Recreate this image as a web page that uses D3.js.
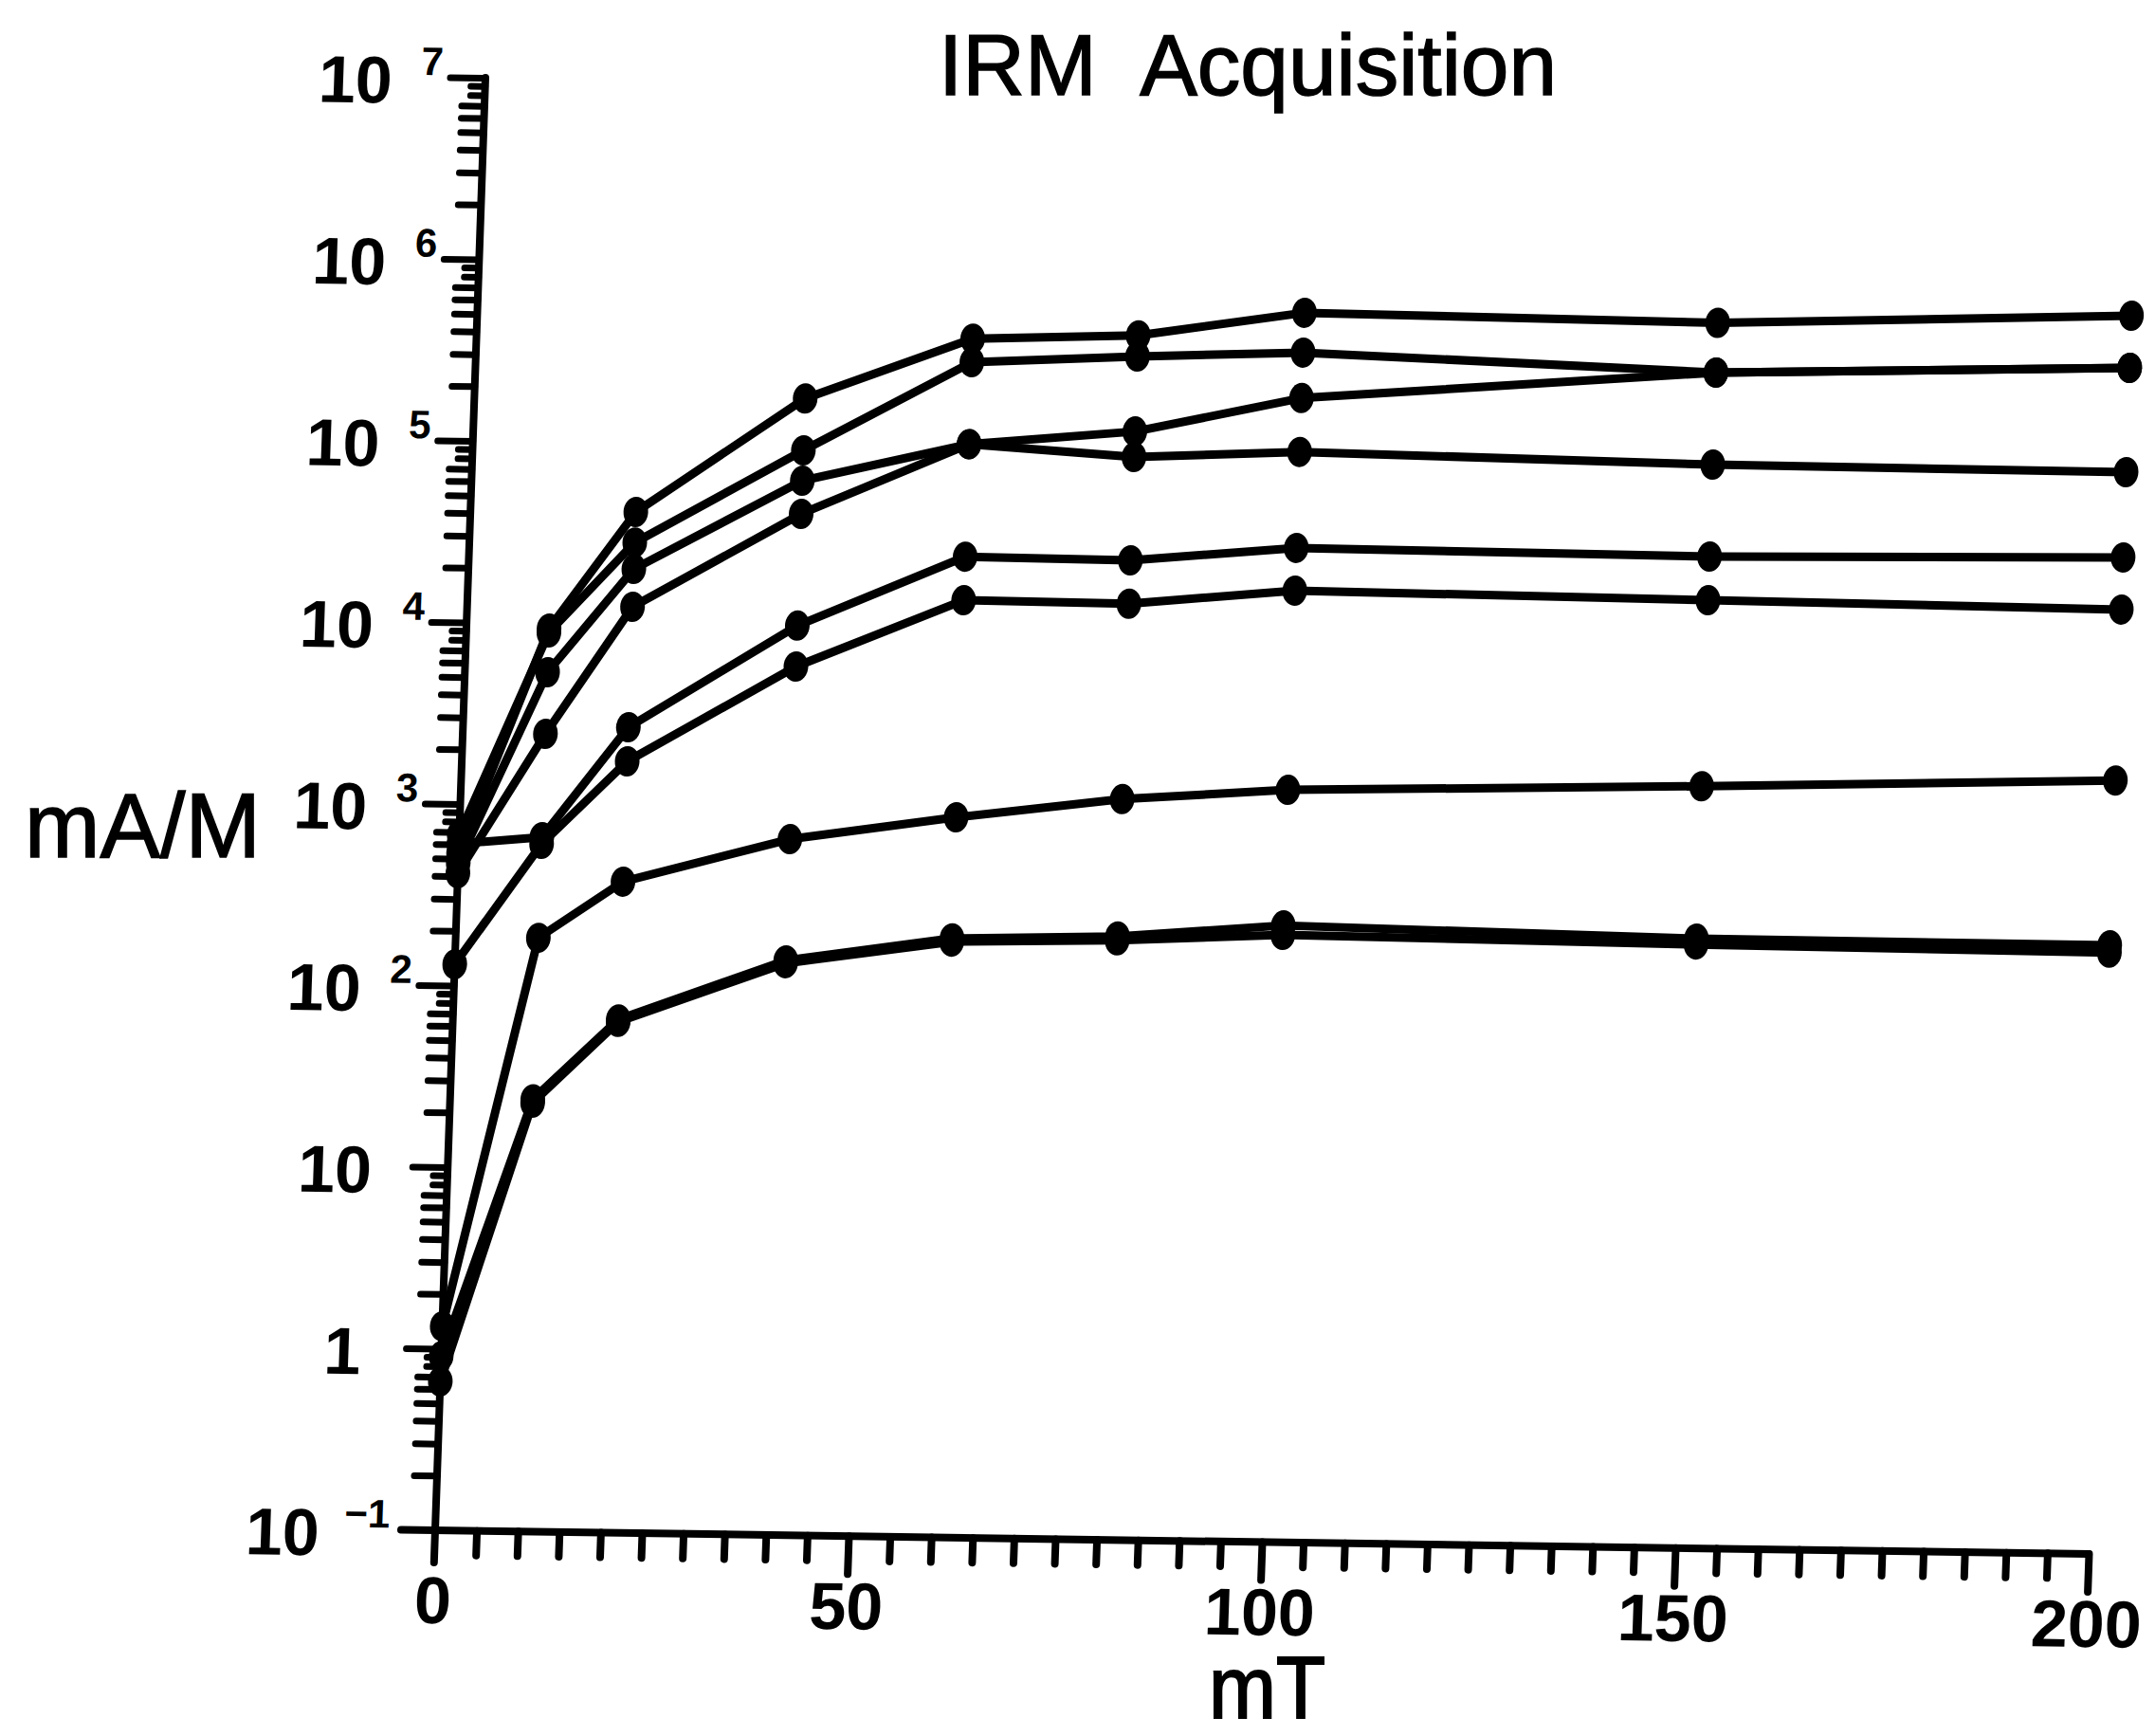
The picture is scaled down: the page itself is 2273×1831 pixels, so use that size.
<!DOCTYPE html>
<html>
<head>
<meta charset="utf-8">
<script src="https://cdn.jsdelivr.net/npm/d3@7"></script>
<style>
  html, body { margin: 0; padding: 0; background: #ffffff; }
  svg { display: block; }
  text { white-space: pre; }
</style>
</head>
<body>
<svg id="chart" width="2273" height="1831"></svg>
<script>
// ---------------- data ----------------
const fields = [0, 10, 20, 40, 60, 80, 100, 150, 200];   // mT

const sampleA = [535, 9400, 41800, 182000, 400000, 430000, 590000, 560000, 660000];
const sampleB = [680, 8950, 28400, 94200, 297000, 329000, 356000, 298000, 341000];
const sampleC = [474, 5400, 20300, 64100, 105000, 127000, 200000, 298000, 341000];
const sampleD = [416, 2470, 12560, 42100, 105000, 91900, 101000, 92700, 90800];
const sampleE = [604, 667, 2730, 10200, 25200, 24800, 29900, 28900, 30800];
const sampleF = [131, 612, 1770, 6070, 14500, 14300, 17400, 16600, 15900];
const sampleG = [1.33, 186, 385, 680, 925, 1200, 1390, 1570, 1820];
const sampleH = [0.91, 24, 67, 146, 199, 210, 249, 227, 225];
const sampleI = [0.66, 23, 65, 141, 191, 200, 221, 211, 205];

const seriesList = [sampleA, sampleB, sampleC, sampleD, sampleE, sampleF, sampleG, sampleH, sampleI];

const xMajorTicks = [0, 50, 100, 150, 200];
const xTickLabels = ["0", "50", "100", "150", "200"];
const yDecades = [-1, 0, 1, 2, 3, 4, 5, 6, 7];
const yBaseLabels = ["10", "1", "10", "10", "10", "10", "10", "10", "10"];
const yExpLabels = ["\u22121", "", "", "2", "3", "4", "5", "6", "7"];

const titleText = "IRM  Acquisition";
const yAxisTitle = "mA/M";
const xAxisTitle = "mT";

// ---------------- layout ----------------
const W = 1744, H = 1532;
const svg = d3.select("#chart");
svg.append("rect").attr("width", 2273).attr("height", 1831).attr("fill", "#fff");

const x = d3.scaleLinear().domain([0, 200]).range([0, W]);
const y = d3.scaleLog().domain([0.1, 1e7]).range([H, 0]);

// the scanned original is slightly skewed: reproduce with an affine frame
const g = svg.append("g")
  .attr("transform", "matrix(1,0.01433,-0.0346,1,512,82)");

const INK = "#000";
const labelFont = "'Liberation Sans', Arial, Helvetica, sans-serif";

// ---- axes lines ----
g.append("line")
  .attr("x1", x(0) - 36).attr("x2", x(200))
  .attr("y1", y(0.1)).attr("y2", y(0.1))
  .attr("stroke", INK).attr("stroke-width", 8).attr("stroke-linecap", "round");
g.append("line")
  .attr("x1", x(0)).attr("x2", x(0))
  .attr("y1", y(1e7)).attr("y2", y(0.1) + 34)
  .attr("stroke", INK).attr("stroke-width", 8).attr("stroke-linecap", "round");

// ---- x ticks ----
const xMinor = d3.range(5, 200, 5).filter(v => v % 50 !== 0);
const xAxisMinor = d3.axisBottom(x).tickValues(xMinor).tickSize(26).tickFormat("").tickSizeOuter(0);
const xAxisMajor = d3.axisBottom(x).tickValues(xMajorTicks.slice(1)).tickSize(40).tickFormat("").tickSizeOuter(0);
[xAxisMinor, xAxisMajor].forEach(ax => {
  const a = g.append("g").attr("transform", `translate(0,${y(0.1)})`).call(ax);
  a.select(".domain").remove();
  a.selectAll("line").attr("stroke", INK).attr("stroke-width", 8).attr("stroke-linecap", "round");
});

// x tick labels
g.selectAll("text.xl").data(xMajorTicks).enter().append("text")
  .attr("class", "xl")
  .attr("x", d => x(d))
  .attr("y", y(0.1) + 98)
  .attr("text-anchor", "middle")
  .attr("font-family", labelFont).attr("font-weight", "bold")
  .attr("font-size", 70)
  .text((d, i) => xTickLabels[i]);

// ---- y ticks ----
const yMinor = [];
const yMinorShort = [];
yDecades.slice(0, -1).forEach(k => {
  for (let m = 2; m <= 9; m++) {
    (m >= 8 ? yMinorShort : yMinor).push(m * Math.pow(10, k));
  }
});
const yMajor = yDecades.map(k => Math.pow(10, k));
[[yMinor, 24], [yMinorShort, 15], [yMajor.slice(1), 37]].forEach(([vals, size]) => {
  const a = g.append("g").call(d3.axisLeft(y).tickValues(vals).tickSize(size).tickFormat("").tickSizeOuter(0));
  a.select(".domain").remove();
  a.selectAll("line").attr("stroke", INK).attr("stroke-width", 7).attr("stroke-linecap", "round");
});

// y tick labels
const baseRight = { "-1": -122, "0": -85, "1": -80 };
const expLeft = { "-1": -96 };
yDecades.forEach((k, i) => {
  const ty = y(Math.pow(10, k));
  const r = baseRight[k] !== undefined ? baseRight[k] : -98;
  g.append("text")
    .attr("x", r).attr("y", ty + 28)
    .attr("text-anchor", "end")
    .attr("font-family", labelFont).attr("font-weight", "bold")
    .attr("font-size", 70)
    .text(yBaseLabels[i]);
  if (yExpLabels[i]) {
    g.append("text")
      .attr("x", expLeft[k] !== undefined ? expLeft[k] : -68).attr("y", ty - 2)
      .attr("text-anchor", "start")
      .attr("font-family", labelFont).attr("font-weight", "bold")
      .attr("font-size", 42)
      .text(yExpLabels[i]);
  }
});

// ---- data lines and markers ----
const line = d3.line().x((d, i) => x(fields[i])).y(d => y(d));
const sg = g.append("g");
seriesList.forEach(s => {
  sg.append("path").attr("d", line(s))
    .attr("fill", "none").attr("stroke", INK)
    .attr("stroke-width", 9).attr("stroke-linejoin", "round").attr("stroke-linecap", "round");
});
seriesList.forEach(s => {
  sg.selectAll(null).data(s).enter().append("ellipse")
    .attr("cx", (d, i) => x(fields[i]))
    .attr("cy", d => y(d))
    .attr("rx", 13).attr("ry", 16)
    .attr("fill", INK);
});

// ---- titles ----
svg.append("text")
  .attr("x", 990).attr("y", 100)
  .attr("font-family", labelFont).attr("font-size", 90)
  .attr("textLength", 652).attr("lengthAdjust", "spacingAndGlyphs")
  .attr("stroke", INK).attr("stroke-width", 1.5)
  .attr("xml:space", "preserve")
  .text(titleText);

svg.append("text")
  .attr("x", 26).attr("y", 904)
  .attr("font-family", labelFont).attr("font-size", 96)
  .attr("textLength", 249).attr("lengthAdjust", "spacingAndGlyphs")
  .attr("stroke", INK).attr("stroke-width", 1.5)
  .text(yAxisTitle);

svg.append("text")
  .attr("x", 1275).attr("y", 1812)
  .attr("font-family", labelFont).attr("font-size", 92)
  .attr("textLength", 123).attr("lengthAdjust", "spacingAndGlyphs")
  .attr("stroke", INK).attr("stroke-width", 2)
  .text(xAxisTitle);
</script>
</body>
</html>
